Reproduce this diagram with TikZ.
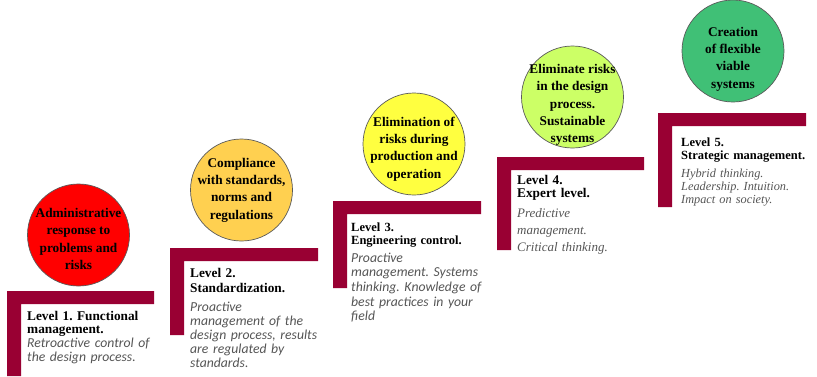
\documentclass[tikz,border=0pt]{standalone}
\usepackage{fontspec}
\setmainfont{Liberation Serif}
\newfontfamily\calfont{Carlito}
\frenchspacing

\definecolor{barred}{RGB}{153,0,51}
\definecolor{rimgray}{RGB}{90,90,90}
\definecolor{descgray}{RGB}{85,85,85}
\definecolor{discA}{RGB}{255,0,0}
\definecolor{discB}{RGB}{255,208,80}
\definecolor{discC}{RGB}{255,255,64}
\definecolor{discD}{RGB}{204,255,102}
\definecolor{discE}{RGB}{64,192,118}

\tikzset{
  bar/.style={fill=barred},
  disc/.style={circle, draw=rimgray, line width=0.7pt, minimum size=102pt, inner sep=0pt},
  disctext/.style={align=center, inner sep=0pt, font=\bfseries\fontsize{13.3}{17.3}\selectfont},
  title/.style={anchor=base west, inner sep=0pt, align=left, text width=145pt},
  desc/.style={anchor=base west, inner sep=0pt, align=left, text width=145pt, text=descgray},
  sansdesc/.style={desc, font=\calfont\itshape\fontsize{13.7}{14}\selectfont},
}

\begin{document}
\begin{tikzpicture}[x=1pt, y=-1pt]
\useasboundingbox (0,0) rectangle (817,376);

% the five steps of the staircase
\foreach \lx/\ty/\rx/\by in {7/291/154/376, 170/248/318/335, 333/201/481/288, 497/157/644/250, 658/113/806/207}
  \fill[bar] (\lx,\ty) -- (\rx,\ty) -- (\rx,\ty+13) -- (\lx+14,\ty+13) -- (\lx+14,\by) -- (\lx,\by) -- cycle;

% goals above each step
\node[disc, fill=discA] (c1) at (78.5,235) {};
\node[disctext] (c1t) at (78.5,239) {Administrative\\response to\\problems and\\risks};

\node[disc, fill=discB] (c2) at (241.5,190) {};
\node[disctext] (c2t) at (241.5,190) {Compliance\\with standards,\\norms and\\regulations};

\node[disc, fill=discC] (c3) at (414,144) {};
\node[disctext] (c3t) at (414,149) {Elimination of\\risks during\\production and\\operation};

\node[disc, fill=discD] (c4) at (572.5,97) {};
\node[disctext] (c4t) at (572.5,105) {Eliminate risks\\in the design\\process.\\Sustainable\\systems};

\node[disc, fill=discE] (c5) at (733,51) {};
\node[disctext] (c5t) at (733,59) {Creation\\of flexible\\viable\\systems};

% level descriptions
\node[title, font=\bfseries\fontsize{13.3}{13.5}\selectfont] (t1) at (27,320) {Level 1. Functional\\management.};
\node[sansdesc] (d1) at (27,347) {Retroactive control of\\the design process.};

\node[title, font=\bfseries\fontsize{13.3}{14.5}\selectfont] (t2) at (190,277.5) {Level 2.\\Standardization.};
\node[sansdesc] (d2) at (190,311) {Proactive\\management of the\\design process, results\\are regulated by\\standards.};

\node[title, font=\bfseries\fontsize{12.5}{13}\selectfont] (t3) at (351,231) {Level 3.\\Engineering control.};
\node[sansdesc, font=\calfont\itshape\fontsize{13.7}{14.7}\selectfont] (d3) at (351,262) {Proactive\\management. Systems\\thinking. Knowledge of\\best practices in your\\field};

\node[title, font=\bfseries\fontsize{13.3}{13}\selectfont] (t4) at (517,184) {Level 4.\\Expert level.};
\node[desc, font=\itshape\fontsize{13}{17}\selectfont] (d4) at (517,217) {Predictive\\management.\\Critical thinking.};

\node[title, font=\bfseries\fontsize{12.5}{13}\selectfont] (t5) at (681,146) {Level 5.\\Strategic management.};
\node[desc, font=\itshape\fontsize{12.3}{13.3}\selectfont] (d5) at (681,177) {Hybrid thinking.\\Leadership. Intuition.\\Impact on society.};
\end{tikzpicture}
\end{document}
